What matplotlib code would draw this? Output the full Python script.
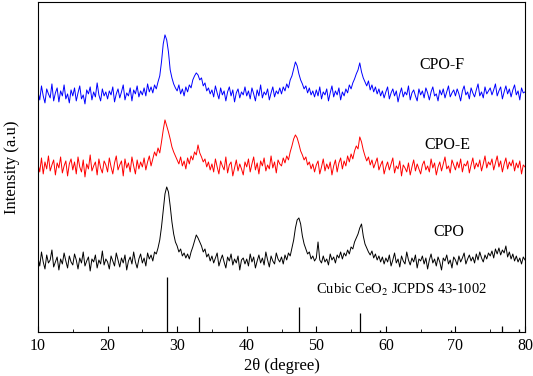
import numpy as np
import matplotlib
matplotlib.use('Agg')
import matplotlib.pyplot as plt
from matplotlib.ticker import MultipleLocator

plt.rcParams['font.family'] = ['Liberation Serif', 'DejaVu Serif']
plt.rcParams['mathtext.fontset'] = 'stix'

# 2theta grid, 0.25 degree steps from 10 to 80
two_theta = np.linspace(10, 80, 281)

# CPO (black) at 0.25 deg steps
cpo = [
    74, 66, 80, 70, 63, 77, 69, 72, 82, 65, 70, 75, 62, 73, 68, 79, 71, 64, 76, 70,
    67, 78, 72, 63, 74, 69, 80, 66, 71, 75, 61, 73, 70, 77, 64, 72, 68, 81, 67, 73,
    70, 63, 76, 71, 66, 79, 72, 65, 74, 69, 77, 62, 71, 75, 68, 80, 70, 64, 73, 78,
    69, 74, 66, 79, 73, 77, 71, 80, 78, 84, 92, 105, 122, 138, 145, 140, 126, 110, 98, 90,
    86, 80, 83, 76, 79, 74, 78, 73, 80, 85, 91, 97, 94, 90, 86, 80, 83, 75, 78, 71,
    76, 69, 74, 79, 66, 72, 77, 70, 64, 75, 71, 78, 67, 73, 69, 76, 62, 72, 74, 68,
    73, 66, 78, 70, 75, 64, 71, 77, 69, 74, 67, 80, 72, 65, 76, 71, 68, 79, 73, 70,
    75, 68, 77, 72, 79, 76, 84, 92, 104, 112, 114, 108, 96, 88, 83, 78, 80, 73, 76, 71,
    74, 90, 72, 69, 76, 70, 73, 67, 78, 72, 75, 69, 77, 74, 80, 73, 79, 76, 82, 78,
    85, 83, 90, 94, 98, 104, 108, 96, 88, 84, 80, 77, 81, 74, 78, 72, 76, 70, 75, 68,
    74, 70, 77, 66, 72, 79, 69, 73, 65, 76, 71, 68, 80, 72, 67, 74, 70, 77, 64, 73,
    71, 76, 68, 74, 63, 72, 78, 69, 73, 66, 75, 70, 62, 74, 71, 77, 68, 72, 64, 75,
    72, 67, 76, 70, 74, 79, 68, 73, 77, 71, 75, 69, 78, 72, 80, 74, 70, 77, 73, 79,
    76, 81, 74, 83, 78, 84, 77, 82, 79, 86, 75, 80, 73, 78, 71, 76, 70, 74, 68, 75,
    72,
]

# CPO-E (red)
cpo_e = [
    168, 160, 174, 158, 170, 163, 176, 161, 167, 172, 157, 169, 164, 175, 159, 166, 171, 156, 168, 173,
    162, 170, 158, 175, 165, 160, 172, 155, 168, 163, 177, 161, 166, 170, 157, 173, 164, 159, 171, 167,
    160, 174, 165, 158, 169, 176, 162, 167, 171, 156, 173, 164, 169, 160, 175, 166, 158, 172, 163, 170,
    165, 174, 162, 170, 176, 166, 173, 180, 176, 184, 179, 190, 202, 212, 206, 200, 193, 185, 180, 176,
    172, 168, 175, 166, 171, 163, 174, 168, 176, 172, 180, 177, 187, 179, 175, 170, 173, 165, 170, 162,
    168, 160, 173, 165, 158, 171, 166, 162, 175, 159, 167, 170, 156, 164, 172, 161, 168, 163, 157, 170,
    165, 173, 160, 168, 175, 162, 169, 158, 171, 166, 174, 161, 167, 163, 176, 164, 170, 159, 172, 168,
    166, 174, 169, 176, 172, 180, 186, 193, 197, 194, 188, 181, 177, 172, 175, 167, 170, 163, 168, 160,
    167, 171, 158, 165, 173, 161, 168, 163, 170, 157, 166, 172, 160, 169, 174, 163, 171, 166, 176, 170,
    178, 173, 181, 186, 183, 195, 190, 182, 176, 171, 175, 167, 172, 164, 169, 174, 162, 167, 171, 158,
    165, 170, 162, 168, 174, 159, 166, 163, 171, 156, 167, 164, 160, 169, 157, 165, 172, 161, 168, 163,
    158, 167, 171, 162, 166, 160, 173, 164, 169, 157, 165, 170, 161, 168, 175, 163, 166, 159, 172, 167,
    162, 170, 164, 173, 160, 168, 166, 171, 159, 167, 174, 163, 169, 165, 172, 161, 168, 176, 164, 170,
    167, 173, 162, 169, 176, 165, 171, 160, 168, 174, 163, 170, 166, 172, 161, 169, 164, 171, 158, 167,
    165,
]

# CPO-F (blue)
cpo_f = [
    240, 232, 246, 236, 229, 243, 238, 234, 248, 231, 239, 244, 230, 241, 236, 247, 233, 238, 229, 242,
    236, 244, 231, 239, 246, 233, 237, 228, 242, 238, 245, 232, 240, 235, 249, 237, 231, 243, 236, 240,
    233, 241, 237, 245, 230, 238, 243, 234, 240, 247, 232, 239, 236, 244, 231, 242, 238, 246, 235, 241,
    237, 244, 236, 248, 240, 245, 239, 247, 243, 250, 256, 270, 288, 297, 292, 280, 262, 254, 248, 244,
    241, 247, 238, 243, 236, 245, 240, 247, 244, 252, 256, 259, 257, 252, 254, 246, 249, 241, 244, 238,
    242, 235, 246, 239, 233, 244, 237, 241, 231, 240, 245, 236, 242, 230, 239, 243, 234, 240, 237, 245,
    236, 241, 233, 244, 238, 231, 242, 236, 247, 234, 240, 237, 243, 232, 239, 245, 235, 241, 238, 244,
    238, 245, 241, 248, 244, 252, 256, 263, 270, 266, 258, 252, 248, 243, 246, 239, 244, 237, 241, 235,
    242, 236, 245, 233, 240, 237, 243, 231, 239, 246, 235, 241, 237, 244, 232, 240, 236, 243, 239, 247,
    243, 249, 253, 258, 262, 269, 260, 254, 250, 246, 251, 242, 247, 240, 245, 238, 243, 236, 241, 234,
    240, 245, 233, 239, 243, 236, 241, 230, 238, 244, 235, 240, 237, 246, 232, 239, 242, 236, 231, 243,
    237, 241, 234, 244, 239, 232, 240, 245, 236, 238, 231, 242, 237, 243, 234, 240, 246, 235, 239, 242,
    236, 243, 238, 231, 241, 246, 237, 240, 233, 244, 239, 235, 242, 248, 236, 240, 234, 245, 238, 241,
    244, 237, 242, 248, 236, 241, 245, 233, 240, 246, 238, 243, 235, 242, 247, 237, 241, 232, 244, 239,
    240,
]

# cubic CeO2 reference lines
ref_pos = [28.55, 33.08, 47.48, 56.34, 59.09, 69.40, 76.70, 79.07]
ref_int = [55, 15, 25, 19, 2, 2, 6, 3]

fig = plt.figure(figsize=(5.33, 3.76), dpi=100)
ax = fig.add_axes([0.0713, 0.117, 0.9137, 0.878])

ax.plot(two_theta, cpo_f, color='#0000ff', lw=0.7)
ax.plot(two_theta, cpo_e, color='#ff0000', lw=0.7)
ax.plot(two_theta, cpo, color='black', lw=0.7)
ax.vlines(ref_pos, 0, ref_int, color='black', lw=0.9)

ax.text(68.0, 267, 'CPO-F', fontsize=11.5, ha='center', va='center')
ax.text(68.8, 187, 'CPO-E', fontsize=11.5, ha='center', va='center')
ax.text(69.0, 100, 'CPO', fontsize=11.5, ha='center', va='center')
ax.text(62.3, 42, 'Cubic CeO$_2$ JCPDS 43-1002', fontsize=10.5, ha='center', va='center')

ax.set_xlim(10, 80)
ax.set_ylim(0, 330)
ax.xaxis.set_major_locator(MultipleLocator(10))
ax.xaxis.set_minor_locator(MultipleLocator(5))
ax.tick_params(axis='x', which='both', direction='in', top=False, labelsize=11.5, pad=4)
ax.tick_params(axis='x', which='major', length=4)
ax.tick_params(axis='x', which='minor', length=2.5)
ax.set_yticks([])
ax.set_xlabel('2θ (degree)', fontsize=12, labelpad=3)
ax.set_ylabel('Intensity (a.u)', fontsize=12, labelpad=13)

fig.savefig('out.png', dpi=100)
